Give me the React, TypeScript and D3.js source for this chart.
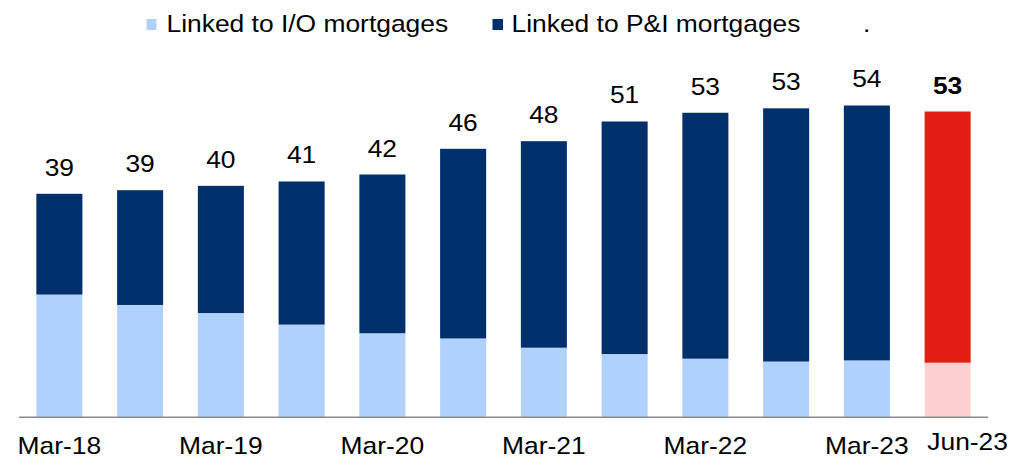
import React from "react";
import * as d3 from "d3";

const categories = ["Mar-18", "Sep-18", "Mar-19", "Sep-19", "Mar-20", "Sep-20", "Mar-21", "Sep-21", "Mar-22", "Sep-22", "Mar-23", "Jun-23"];
const tickLabels = ["Mar-18", "", "Mar-19", "", "Mar-20", "", "Mar-21", "", "Mar-22", "", "Mar-23", "Jun-23"];
const ioValues = [21.2, 19.4, 18.0, 16.0, 14.5, 13.6, 12.0, 10.9, 10.1, 9.6, 9.8, 9.4];
const piValues = [17.45, 19.87, 22.03, 24.78, 27.49, 32.84, 35.76, 40.27, 42.58, 43.85, 44.14, 43.5];
const seriesNames = ["Linked to I/O mortgages", "Linked to P&I mortgages"];

const W = 1011;
const H = 459;
const FONT = "'Liberation Sans', Arial, sans-serif";
const SX = 1.1;

const COL_IO = "#B0D1FC";
const COL_PI = "#00306B";
const COL_IO_HL = "#FDD0D0";
const COL_PI_HL = "#E31C14";

export default function App() {
  const x = d3.scaleBand<string>().domain(categories).range([19, 988]).paddingInner(0.43).paddingOuter(0.215);
  const y = d3.scaleLinear().domain([0, 60]).range([417, 417 - 60 * 5.775]);
  const last = categories.length - 1;

  const Txt = ({ tx, ty, children, bold = false, anchor = "middle", size = 24 }: any) => (
    <g transform={`translate(${tx},${ty}) scale(${SX},1)`}>
      <text x={0} y={0} textAnchor={anchor} fontFamily={FONT} fontSize={size} fontWeight={bold ? "bold" : "normal"} fill="#000">
        {children}
      </text>
    </g>
  );

  return (
    <svg width={W} height={H} style={{ position: "absolute", left: 0, top: 0, background: "#fff" }}>
      {categories.map((c, i) => {
        const x0 = x(c)!;
        const bw = x.bandwidth();
        const io = ioValues[i];
        const pi = piValues[i];
        const hl = i === last;
        return (
          <g key={c}>
            <rect x={x0} y={y(io)} width={bw} height={y(0) - y(io)} fill={hl ? COL_IO_HL : COL_IO} />
            <rect x={x0} y={y(io + pi)} width={bw} height={y(io) - y(io + pi)} fill={hl ? COL_PI_HL : COL_PI} />
          </g>
        );
      })}
      <line x1={19} x2={988} y1={417.3} y2={417.3} stroke="#8a8a8a" strokeWidth={1.5} />
      {categories.map((c, i) => {
        const total = ioValues[i] + piValues[i];
        const cx = x(c)! + x.bandwidth() / 2;
        return (
          <Txt key={"l" + c} tx={cx} ty={y(total) - 18} bold={i === last}>
            {Math.round(total)}
          </Txt>
        );
      })}
      {categories.map((c, i) => {
        const lbl = tickLabels[i];
        if (!lbl) return null;
        const cx = x(c)! + x.bandwidth() / 2;
        const isLast = i === last;
        return (
          <Txt key={"t" + c} tx={cx + (isLast ? 20 : 0)} ty={isLast ? 450 : 454}>
            {lbl}
          </Txt>
        );
      })}
      {/* legend */}
      <rect x={146.5} y={19} width={10} height={11} fill={COL_IO} />
      <Txt tx={166.5} ty={32} anchor="start">{seriesNames[0]}</Txt>
      <rect x={492.5} y={19} width={10.5} height={11} fill={COL_PI} />
      <Txt tx={511.5} ty={32} anchor="start">{seriesNames[1]}</Txt>
      <Txt tx={863} ty={32} anchor="start">.</Txt>
    </svg>
  );
}
